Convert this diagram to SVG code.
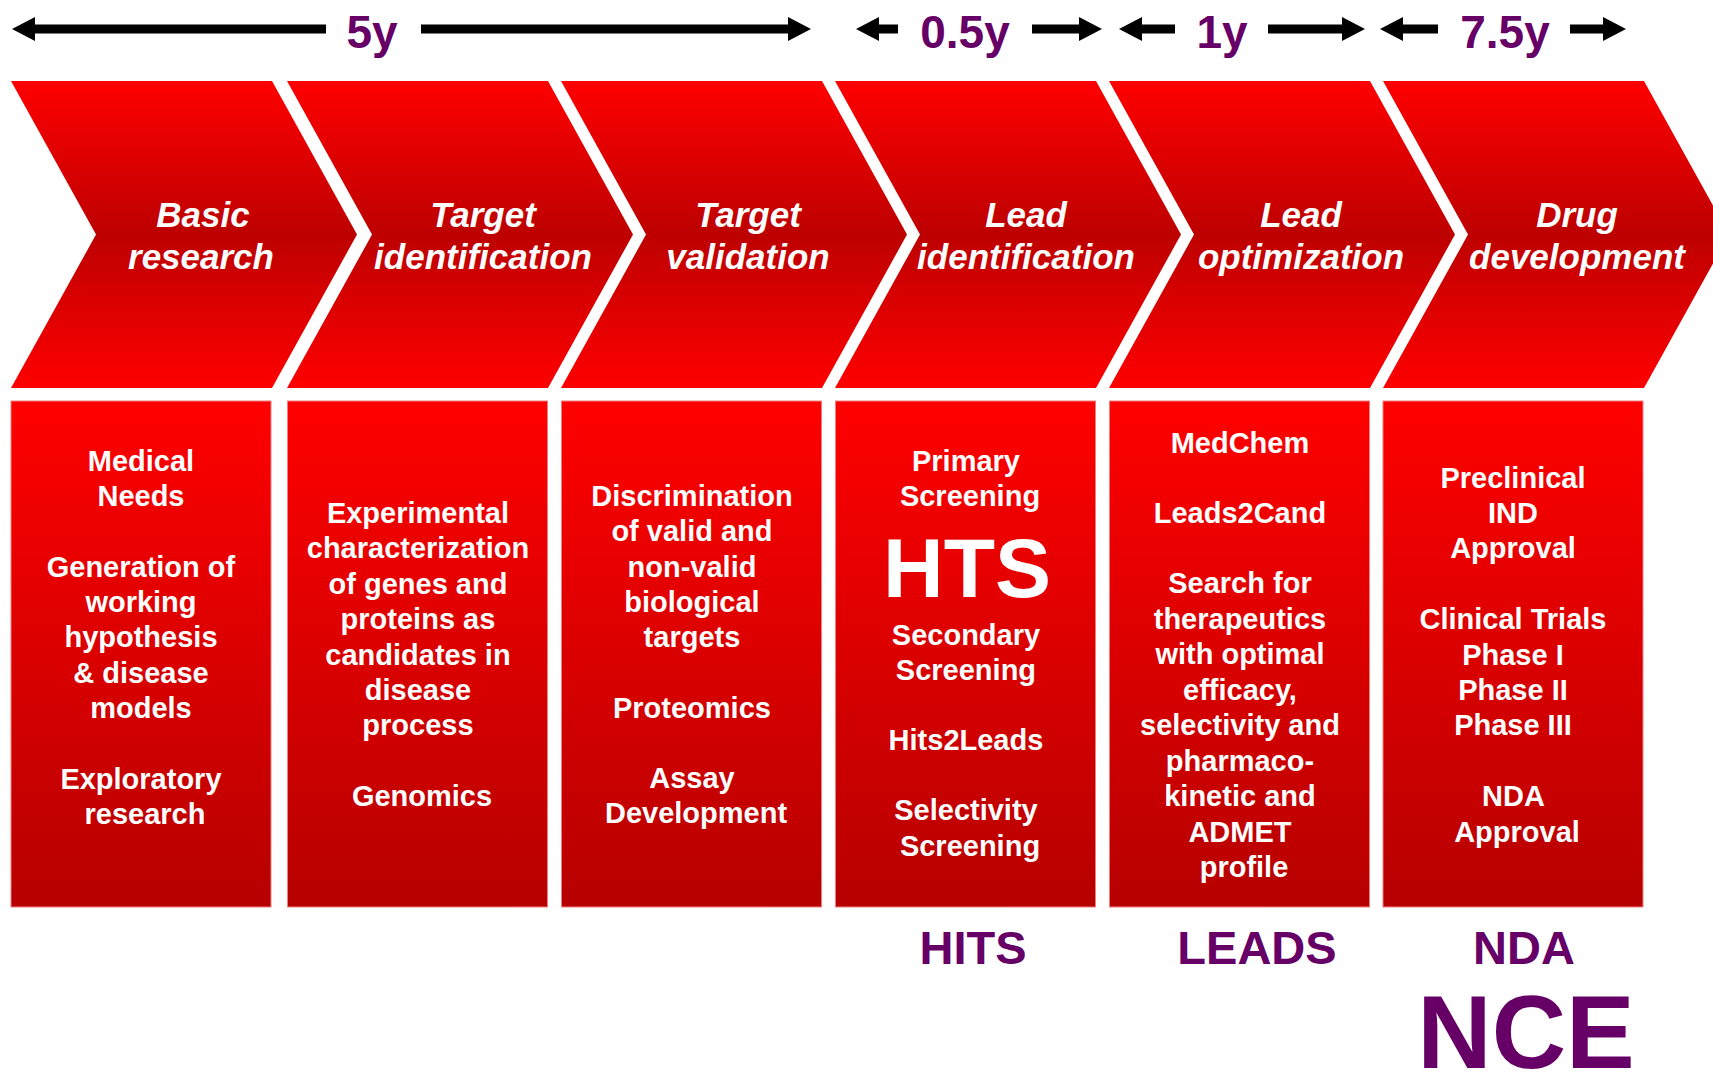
<svg xmlns="http://www.w3.org/2000/svg" width="1713" height="1075" viewBox="0 0 1713 1075">
  <style>
    .phase { font-family: "Liberation Sans", Arial, sans-serif; font-weight: bold; font-style: italic; font-size: 35px; fill: #ffffff; text-anchor: middle; }
    .body { font-family: "Liberation Sans", Arial, sans-serif; font-weight: bold; font-size: 29px; fill: #ffffff; text-anchor: middle; }
    .hts { font-family: "Liberation Sans", Arial, sans-serif; font-weight: bold; font-size: 84px; fill: #ffffff; text-anchor: middle; }
    .dur { font-family: "Liberation Sans", Arial, sans-serif; font-weight: bold; font-size: 46px; fill: #660066; text-anchor: middle; }
    .out { font-family: "Liberation Sans", Arial, sans-serif; font-weight: bold; font-size: 47px; fill: #660066; text-anchor: middle; }
    .nce { font-family: "Liberation Sans", Arial, sans-serif; font-weight: bold; font-size: 103px; fill: #660066; text-anchor: middle; }
    .chev { fill: url(#chevFill); }
    .box { fill: url(#boxFill); stroke: #f08080; stroke-width: 1; }
    .span { stroke: #000000; stroke-width: 9; fill: none; marker-end: url(#head); }
  </style>
  <defs>
    <linearGradient id="chevFill" gradientUnits="userSpaceOnUse" x1="0" y1="81" x2="0" y2="388">
      <stop offset="0" stop-color="#ff0000"/>
      <stop offset="0.5" stop-color="#bd0000"/>
      <stop offset="1" stop-color="#ff0000"/>
    </linearGradient>
    <linearGradient id="boxFill" gradientUnits="userSpaceOnUse" x1="0" y1="401" x2="0" y2="907">
      <stop offset="0" stop-color="#ff0000"/>
      <stop offset="1" stop-color="#b60000"/>
    </linearGradient>
    <marker id="head" markerUnits="userSpaceOnUse" markerWidth="24" markerHeight="24" viewBox="0 0 24 24" refX="0" refY="12" orient="auto">
      <path d="M0,0 L23,12 L0,24 Z" fill="#000000"/>
    </marker>
    <path id="chevShape" d="M0,81 L261,81 L346,234.5 L261,388 L0,388 L85,234.5 Z"/>
  </defs>

  <rect x="0" y="0" width="1713" height="1075" fill="#ffffff"/>

  <!-- timeline spans above the phases -->
  <g id="timeline">
    <line class="span" x1="326" y1="29" x2="35" y2="29"/>
    <line class="span" x1="421" y1="29" x2="788" y2="29"/>
    <line class="span" x1="898" y1="29" x2="879" y2="29"/>
    <line class="span" x1="1032" y1="29" x2="1079" y2="29"/>
    <line class="span" x1="1175" y1="29" x2="1142" y2="29"/>
    <line class="span" x1="1268" y1="29" x2="1342" y2="29"/>
    <line class="span" x1="1438" y1="29" x2="1403" y2="29"/>
    <line class="span" x1="1570" y1="29" x2="1603" y2="29"/>
    <text class="dur" x="372" y="48">5y</text>
    <text class="dur" x="965" y="48">0.5y</text>
    <text class="dur" x="1222" y="48">1y</text>
    <text class="dur" x="1505" y="48">7.5y</text>
  </g>

  <!-- phase 1 -->
  <g id="basic-research">
    <use href="#chevShape" class="chev" transform="translate(11,0)"/>
    <text class="phase"><tspan x="203" y="227">Basic</tspan><tspan x="201" y="269">research</tspan></text>
    <rect class="box" x="11" y="401" width="260" height="506"/>
    <text class="body">
      <tspan x="145" y="471">Medical</tspan>
      <tspan x="145" y="506">Needs</tspan>
      <tspan x="145" y="577">Generation of</tspan>
      <tspan x="145" y="612">working</tspan>
      <tspan x="145" y="647">hypothesis</tspan>
      <tspan x="145" y="683">&amp; disease</tspan>
      <tspan x="145" y="718">models</tspan>
      <tspan x="145" y="789">Exploratory</tspan>
      <tspan x="145" y="824">research</tspan>
    </text>
  </g>

  <!-- phase 2 -->
  <g id="target-identification">
    <use href="#chevShape" class="chev" transform="translate(287,0)"/>
    <text class="phase"><tspan x="483" y="227">Target</tspan><tspan x="483" y="269">identification</tspan></text>
    <rect class="box" x="287.5" y="401" width="260" height="506"/>
    <text class="body">
      <tspan x="422" y="523">Experimental</tspan>
      <tspan x="422" y="558">characterization</tspan>
      <tspan x="422" y="594">of genes and</tspan>
      <tspan x="422" y="629">proteins as</tspan>
      <tspan x="422" y="665">candidates in</tspan>
      <tspan x="422" y="700">disease</tspan>
      <tspan x="422" y="735">process</tspan>
      <tspan x="422" y="806">Genomics</tspan>
    </text>
  </g>

  <!-- phase 3 -->
  <g id="target-validation">
    <use href="#chevShape" class="chev" transform="translate(561,0)"/>
    <text class="phase"><tspan x="748" y="227">Target</tspan><tspan x="748" y="269">validation</tspan></text>
    <rect class="box" x="561.5" y="401" width="260" height="506"/>
    <text class="body">
      <tspan x="696" y="506">Discrimination</tspan>
      <tspan x="696" y="541">of valid and</tspan>
      <tspan x="696" y="577">non-valid</tspan>
      <tspan x="696" y="612">biological</tspan>
      <tspan x="696" y="647">targets</tspan>
      <tspan x="696" y="718">Proteomics</tspan>
      <tspan x="696" y="788">Assay</tspan>
      <tspan x="696" y="823">Development</tspan>
    </text>
  </g>

  <!-- phase 4 -->
  <g id="lead-identification">
    <use href="#chevShape" class="chev" transform="translate(835,0)"/>
    <text class="phase"><tspan x="1026" y="227">Lead</tspan><tspan x="1026" y="269">identification</tspan></text>
    <rect class="box" x="835.5" y="401" width="260" height="506"/>
    <text class="body">
      <tspan x="970" y="471">Primary</tspan>
      <tspan x="970" y="506">Screening</tspan>
    </text>
    <text class="hts" x="967" y="597">HTS</text>
    <text class="body">
      <tspan x="970" y="645">Secondary</tspan>
      <tspan x="970" y="680">Screening</tspan>
      <tspan x="970" y="750">Hits2Leads</tspan>
      <tspan x="970" y="820">Selectivity</tspan>
      <tspan x="970" y="856">Screening</tspan>
    </text>
    <text class="out" x="973" y="964">HITS</text>
  </g>

  <!-- phase 5 -->
  <g id="lead-optimization">
    <use href="#chevShape" class="chev" transform="translate(1109,0)"/>
    <text class="phase"><tspan x="1301" y="227">Lead</tspan><tspan x="1301" y="269">optimization</tspan></text>
    <rect class="box" x="1109.5" y="401" width="260" height="506"/>
    <text class="body">
      <tspan x="1244" y="453">MedChem</tspan>
      <tspan x="1244" y="523">Leads2Cand</tspan>
      <tspan x="1244" y="593">Search for</tspan>
      <tspan x="1244" y="629">therapeutics</tspan>
      <tspan x="1244" y="664">with optimal</tspan>
      <tspan x="1244" y="700">efficacy,</tspan>
      <tspan x="1244" y="735">selectivity and</tspan>
      <tspan x="1244" y="771">pharmaco-</tspan>
      <tspan x="1244" y="806">kinetic and</tspan>
      <tspan x="1244" y="842">ADMET</tspan>
      <tspan x="1244" y="877">profile</tspan>
    </text>
    <text class="out" x="1257" y="964">LEADS</text>
  </g>

  <!-- phase 6 -->
  <g id="drug-development">
    <use href="#chevShape" class="chev" transform="translate(1383,0)"/>
    <text class="phase"><tspan x="1577" y="227">Drug</tspan><tspan x="1577" y="269">development</tspan></text>
    <rect class="box" x="1383" y="401" width="260" height="506"/>
    <text class="body">
      <tspan x="1517" y="488">Preclinical</tspan>
      <tspan x="1517" y="523">IND</tspan>
      <tspan x="1517" y="558">Approval</tspan>
      <tspan x="1517" y="629">Clinical Trials</tspan>
      <tspan x="1517" y="665">Phase I</tspan>
      <tspan x="1517" y="700">Phase II</tspan>
      <tspan x="1517" y="735">Phase III</tspan>
      <tspan x="1517" y="806">NDA</tspan>
      <tspan x="1517" y="842">Approval</tspan>
    </text>
    <text class="out" x="1524" y="964">NDA</text>
    <text class="nce" x="1526" y="1068">NCE</text>
  </g>
</svg>
